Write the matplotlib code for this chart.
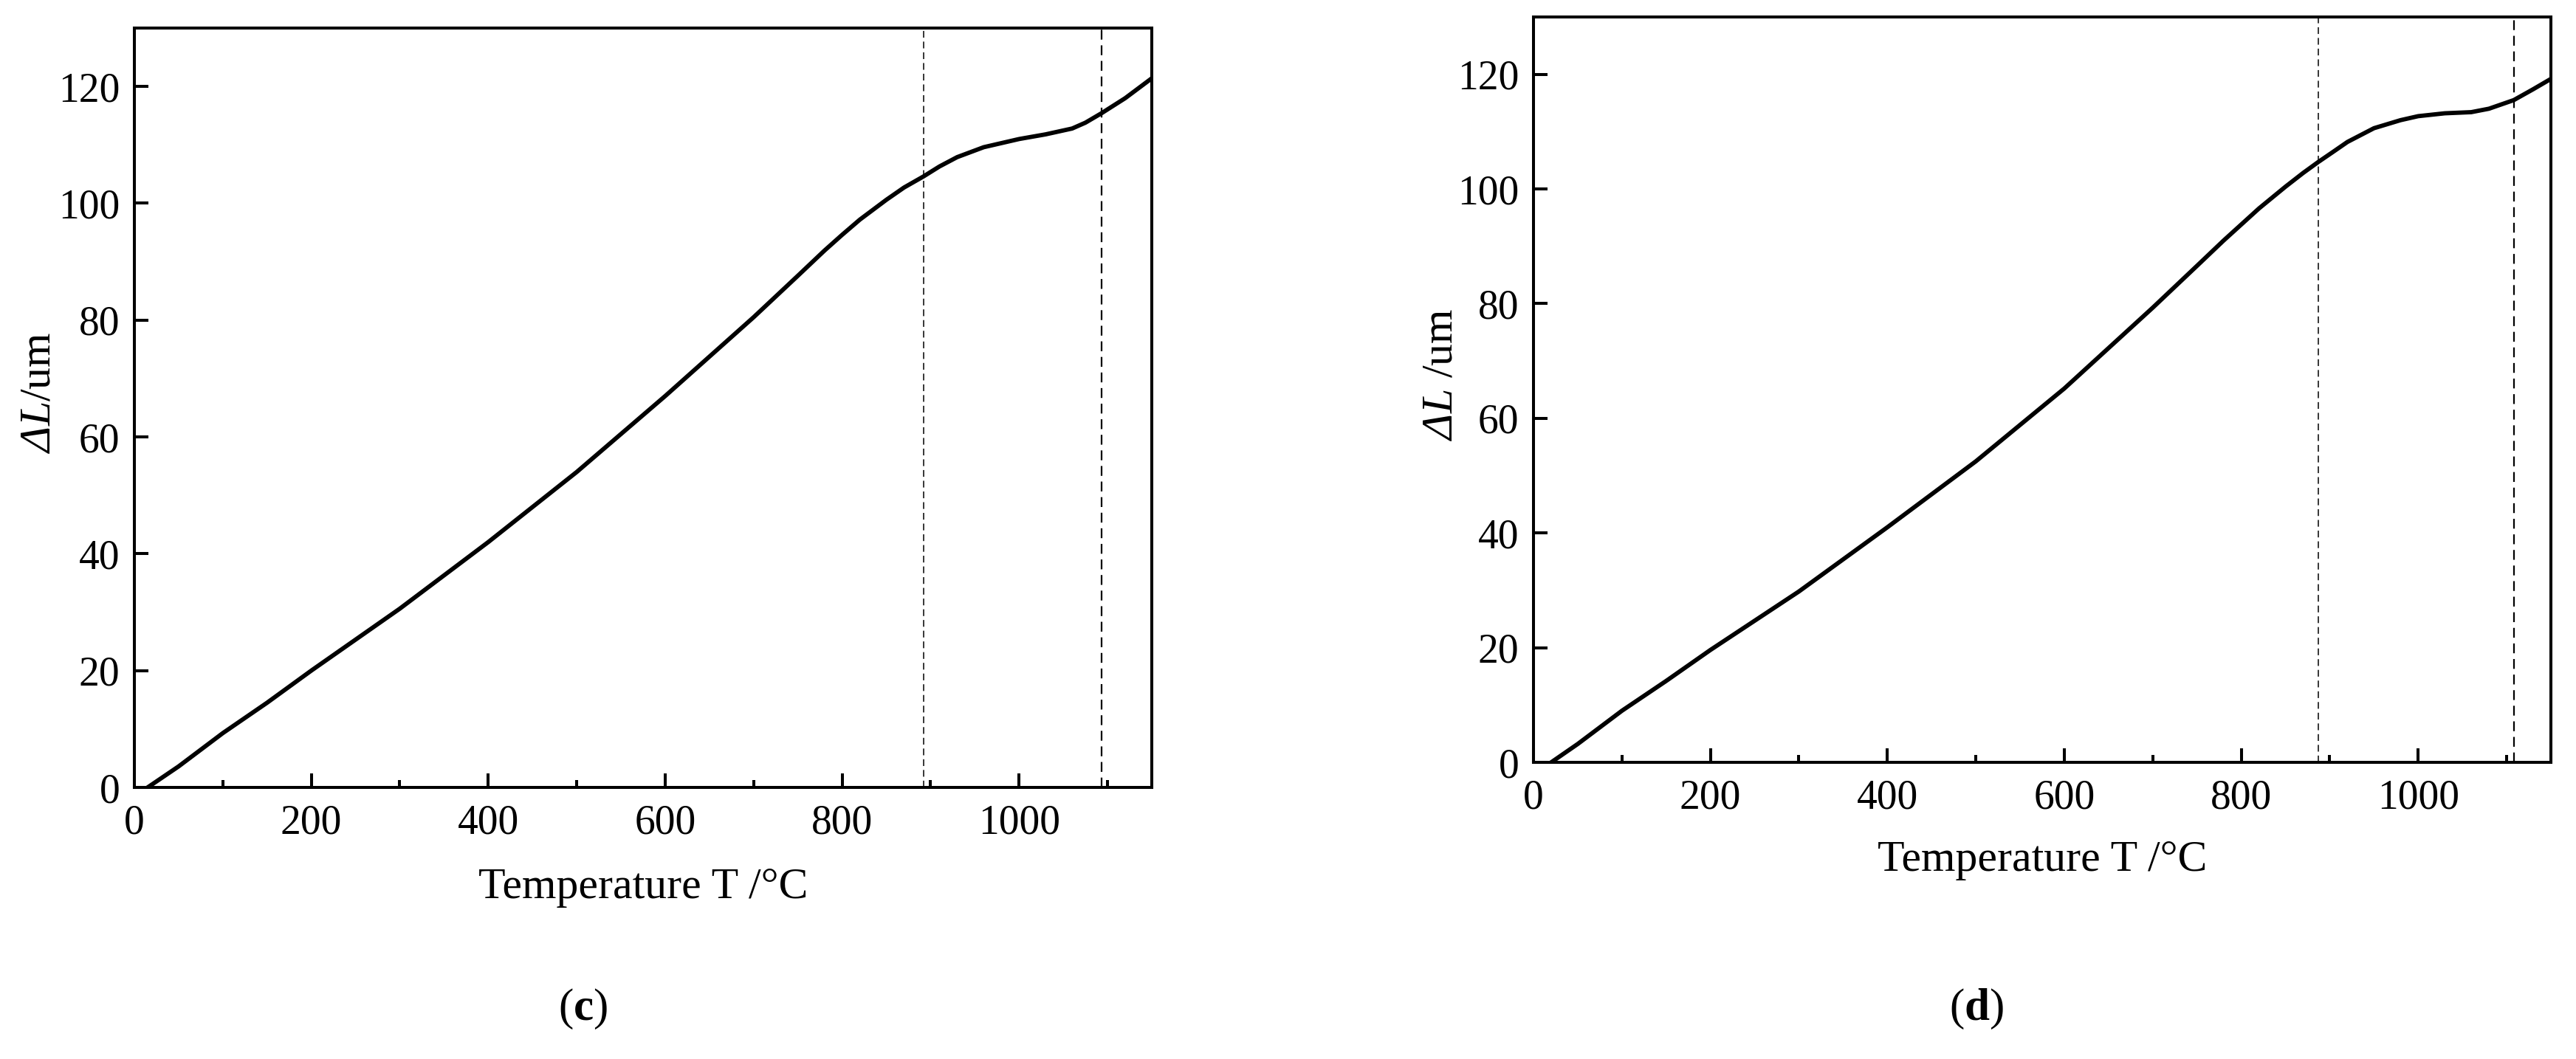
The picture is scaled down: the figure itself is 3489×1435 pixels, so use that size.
import matplotlib
matplotlib.use("Agg")
import matplotlib.pyplot as plt
from matplotlib.ticker import MultipleLocator

plt.rcParams['font.family'] = ['Liberation Serif', 'DejaVu Serif']
plt.rcParams['mathtext.fontset'] = 'custom'
# math roman is italic here so that the Greek capital in "ΔL" slants too
plt.rcParams['mathtext.rm'] = 'Liberation Serif:italic'
plt.rcParams['mathtext.it'] = 'Liberation Serif:italic'
plt.rcParams['mathtext.bf'] = 'Liberation Serif:bold'

# panel (c)
temp_c = [15, 50, 100, 150, 200, 300, 400, 500, 600, 700, 750, 780, 800, 820,
          850, 870, 892, 910, 930, 960, 1000, 1030, 1060, 1075, 1093, 1120, 1150]
dl_c = [0, 3.6, 9.3, 14.5, 20.0, 30.6, 42.0, 54.0, 67.0, 80.5, 87.6, 91.9, 94.6,
        97.2, 100.6, 102.7, 104.6, 106.3, 107.9, 109.6, 111.0, 111.8, 112.8, 113.8,
        115.4, 118.0, 121.4]
dash_c = [892, 1093]

# panel (d)
temp_d = [20, 50, 100, 150, 200, 300, 400, 500, 600, 700, 750, 780, 800, 820,
          850, 870, 887, 905, 920, 950, 980, 1000, 1030, 1060, 1080, 1108, 1130, 1150]
dl_d = [0, 3.2, 9.0, 14.2, 19.6, 29.8, 41.0, 52.5, 65.2, 79.3, 86.6, 91.0, 93.8,
        96.6, 100.4, 102.8, 104.7, 106.6, 108.2, 110.6, 112.0, 112.7, 113.2, 113.4,
        114.0, 115.5, 117.4, 119.2]
dash_d = [887, 1108]

panels = [
    ([182/3489, 1-1067/1435, 1378/3489, 1029/1435], temp_c, dl_c, dash_c,
     r'$ΔL$/um', -0.093, 790, 'c'),
    ([2077/3489, 1-1033/1435, 1378/3489, 1010/1435], temp_d, dl_d, dash_d,
     r'$ΔL$ /um', -0.090, 2677, 'd'),
]

fig = plt.figure(figsize=(34.89, 14.35), dpi=100)

for rect, t, dl, dashes, ylab, ylx, labx, letter in panels:
    ax = fig.add_axes(rect)
    ax.plot(t, dl, color='black', lw=4.2, solid_joinstyle='round')
    ax.axvline(dashes[0], color='black', lw=1.1, ls=(0, (6, 3.5)))
    ax.axvline(dashes[1], color='black', lw=1.6, ls=(0, (6, 3.5)))
    ax.set_xlim(0, 1150)
    ax.set_ylim(0, 130)
    ax.xaxis.set_major_locator(MultipleLocator(200))
    ax.xaxis.set_minor_locator(MultipleLocator(100))
    ax.yaxis.set_major_locator(MultipleLocator(20))
    ax.tick_params(which='major', direction='in', length=14, width=2.9,
                   labelsize=40, top=False, right=False)
    ax.tick_params(axis='x', which='major', pad=16)
    ax.tick_params(axis='y', which='major', pad=14)
    ax.tick_params(which='minor', direction='in', length=7, width=2.9,
                   top=False, right=False)
    for sp in ax.spines.values():
        sp.set_linewidth(2.9)
    ax.set_xlabel('Temperature T /°C', fontsize=43)
    ax.xaxis.label.set_va('center')
    ax.xaxis.set_label_coords(0.5, -0.132)
    ax.set_ylabel(ylab, fontsize=43)
    ax.yaxis.label.set_va('center')
    ax.yaxis.set_label_coords(ylx, 0.52)
    fig.text(labx/3489, 1-1367/1435, '(' + r'$\mathbf{' + letter + '}$' + ')',
             fontsize=44, ha='center', va='center')

fig.savefig('out.png', dpi=100)
